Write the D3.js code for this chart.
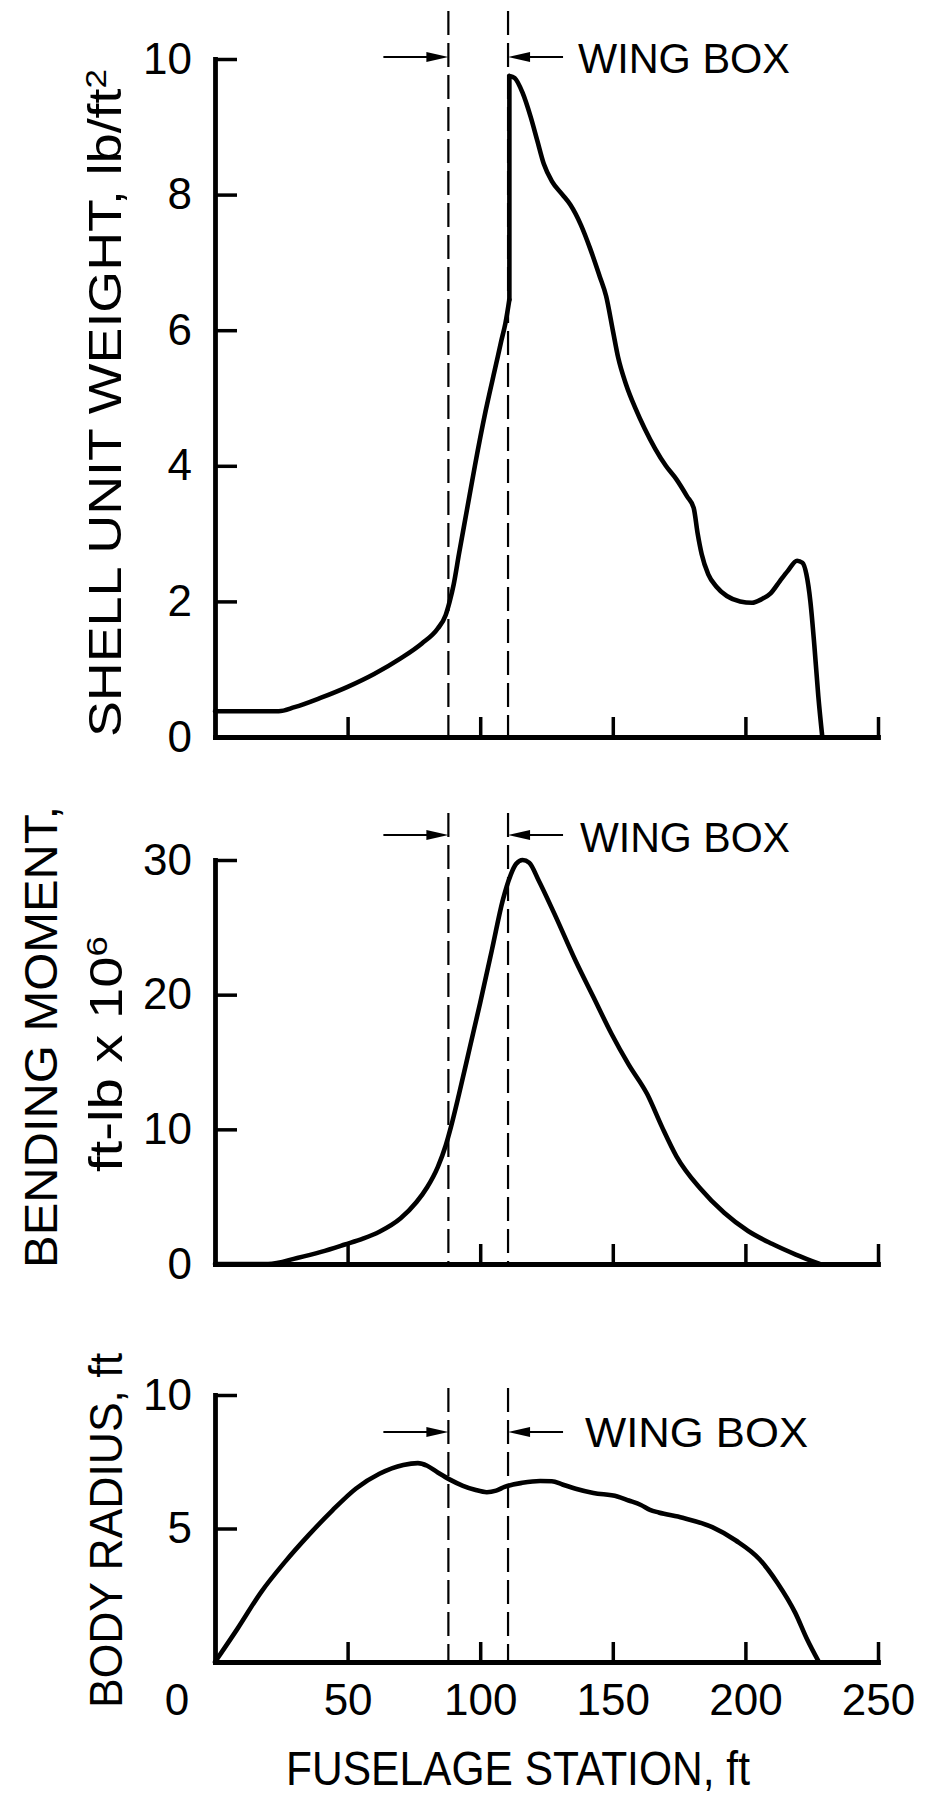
<!DOCTYPE html>
<html><head><meta charset="utf-8">
<script src="https://cdn.jsdelivr.net/npm/d3@7"></script>
<style>
html,body{margin:0;padding:0;background:#fff;}
svg{display:block;background:#fff;}
text{font-family:"Liberation Sans",Arial,Helvetica,sans-serif;fill:#000;}
</style></head><body>
<svg id="chart" width="925" height="1794"></svg>
<script>
// ---------- data ----------
const stationTicks = [50, 100, 150, 200, 250];
const stationZeroLabel = "0";
const wingBox = [88, 110.5];
const wingBoxLabel = "WING BOX";

const weightTicks = [0, 2, 4, 6, 8, 10];
const momentTicks = [0, 10, 20, 30];
const radiusTicks = [5, 10];

const weightStation = [0, 24, 30, 40, 50, 60, 70, 78, 84, 87, 88.5, 90, 92, 95, 98, 102, 106, 108, 109.5, 111,
  111, 113, 116, 119, 121.5, 124, 127, 131, 134, 138, 141.5, 145, 147.5, 150, 152, 155, 158.5, 162, 166, 170, 174, 178,
  180.5, 182, 183.5, 186, 189, 193, 198, 202.5, 206, 209.5, 213, 216, 219.5, 221.5, 223, 224.5, 226, 227.5, 229];
const weightValue = [0.38, 0.38, 0.44, 0.58, 0.74, 0.93, 1.16, 1.38, 1.6, 1.8, 2.0, 2.25, 2.7, 3.35, 4.0, 4.8, 5.5, 5.85, 6.1, 6.45,
  9.75, 9.72, 9.5, 9.15, 8.8, 8.45, 8.2, 8.0, 7.85, 7.55, 7.2, 6.8, 6.5, 6.0, 5.6, 5.2, 4.85, 4.55, 4.25, 4.0, 3.8, 3.55,
  3.38, 3.0, 2.7, 2.4, 2.22, 2.08, 2.0, 1.98, 2.03, 2.12, 2.3, 2.45, 2.6, 2.57, 2.4, 2.0, 1.35, 0.6, 0];

const momentStation = [0, 20, 31, 40, 49, 56, 62, 70, 76, 80, 84, 87, 89, 92, 96, 100, 104.5, 108.5, 111.5, 113.5, 116, 118.5, 122,
  128, 136, 142.5, 149.5, 156, 163, 168.5, 174, 183, 192, 201, 210, 219, 228];
const momentValue = [0, 0, 0.45, 0.9, 1.45, 1.9, 2.4, 3.4, 4.6, 5.7, 7.2, 8.8, 10.2, 12.6, 16.0, 19.4, 23.4, 27, 28.9, 29.7, 30, 29.8, 28.5,
  26, 22.5, 19.9, 17.1, 14.8, 12.6, 10.2, 8.0, 5.6, 3.8, 2.45, 1.5, 0.7, 0];

const radiusStation = [0, 8.5, 17.4, 26.4, 35.3, 44.3, 53.2, 62, 71, 76.5, 80, 84, 88.4, 93.5, 98, 102.5, 106, 109.2, 115.9,
  122.6, 127, 131, 136, 142.7, 151.7, 156, 160.6, 164, 167.3, 176.3, 187.5, 196.4, 205.4, 212.1, 218.8, 223.3, 227.7];
const radiusValue = [0, 1.25, 2.62, 3.75, 4.75, 5.68, 6.5, 7.05, 7.38, 7.45, 7.35, 7.1, 6.84, 6.6, 6.45, 6.36, 6.42, 6.56, 6.71,
  6.78, 6.77, 6.65, 6.49, 6.33, 6.2, 6.05, 5.88, 5.7, 5.6, 5.4, 5.05, 4.55, 3.84, 2.96, 1.84, 0.84, 0];

const xTitle = "FUSELAGE STATION, ft";

// ---------- layout ----------
const svg = d3.select("#chart");
const x = d3.scaleLinear().domain([0, 250]).range([215, 878]);

const panels = [
  { st: weightStation, val: weightValue, domain: [0, 10], range: [737, 59], ticks: weightTicks,
    dashTop: 11, arrowY: 57, textX: 578, textY: 73, textLen: 212, showX: false,
    titles: [{ bx: 121, by: 737, len: 668, text: "SHELL UNIT WEIGHT, lb/ft", sup: "2" }] },
  { st: momentStation, val: momentValue, domain: [0, 30], range: [1264, 860], ticks: momentTicks,
    dashTop: 813, arrowY: 835, textX: 580, textY: 852, textLen: 210, showX: false,
    titles: [{ bx: 57, by: 1268, len: 462, text: "BENDING MOMENT," },
             { bx: 122, by: 1172, len: 236, text: "ft-lb x 10", sup: "6" }] },
  { st: radiusStation, val: radiusValue, domain: [0, 10], range: [1662, 1395], ticks: radiusTicks,
    dashTop: 1388, arrowY: 1432, textX: 585, textY: 1447, textLen: 223, showX: true,
    titles: [{ bx: 122, by: 1708, len: 355, text: "BODY RADIUS, ft" }] }
];

function drawPanel(p) {
  const y = d3.scaleLinear().domain(p.domain).range(p.range);
  const g = svg.append("g");
  const base = y(p.domain[0]);

  // wing box dashed lines
  g.selectAll("line.wb").data(wingBox).join("line").attr("class", "wb")
    .attr("x1", d => x(d)).attr("x2", d => x(d))
    .attr("y1", p.dashTop).attr("y2", base)
    .attr("stroke", "#000").attr("stroke-width", 2.2).attr("stroke-dasharray", "24,8");

  // x axis
  const xa = d3.axisBottom(x).tickValues(stationTicks).tickSize(-20).tickSizeOuter(0).tickPadding(22)
    .tickFormat(p.showX ? d3.format("d") : () => "");
  const gx = g.append("g").attr("transform", `translate(0,${base})`).call(xa);
  gx.attr("font-size", null).attr("font-family", null);
  gx.select(".domain").attr("stroke-width", 4.8).attr("stroke-linecap", "square");
  gx.selectAll(".tick line").attr("stroke-width", 3.5);
  gx.selectAll(".tick text").style("font-size", "44px");
  if (p.showX) {
    g.append("text").attr("x", x(0) - 38).attr("y", base + 22).attr("dy", "0.71em")
      .attr("text-anchor", "middle").style("font-size", "44px").text(stationZeroLabel);
  }

  // y axis
  const ya = d3.axisLeft(y).tickValues(p.ticks).tickSize(-22).tickSizeOuter(0).tickPadding(23);
  const gy = g.append("g").attr("transform", `translate(${x(0)},0)`).call(ya);
  gy.attr("font-size", null).attr("font-family", null);
  gy.select(".domain").attr("stroke-width", 4.8).attr("stroke-linecap", "square");
  gy.selectAll(".tick line").attr("stroke-width", 3.5);
  gy.selectAll(".tick text").style("font-size", "44px");

  // curve: split at vertical jumps (repeated station)
  const pts = p.st.map((s, i) => [s, p.val[i]]);
  const segs = [[pts[0]]];
  for (let i = 1; i < pts.length; i++) {
    if (pts[i][0] === pts[i - 1][0]) segs.push([pts[i]]);
    else segs[segs.length - 1].push(pts[i]);
  }
  const line = d3.line().x(d => x(d[0])).y(d => y(d[1])).curve(d3.curveMonotoneX);
  const lin = d3.line().x(d => x(d[0])).y(d => y(d[1]));
  segs.forEach((s, k) => {
    g.append("path").attr("d", line(s)).attr("fill", "none").attr("stroke", "#000")
      .attr("stroke-width", 4.6).attr("stroke-linejoin", "round").attr("stroke-linecap", "round");
    if (k > 0) {
      const prev = segs[k - 1];
      g.append("path").attr("d", lin([prev[prev.length - 1], s[0]])).attr("fill", "none")
        .attr("stroke", "#000").attr("stroke-width", 4.6).attr("stroke-linecap", "round");
    }
  });

  // wing box arrows
  const xl = x(wingBox[0]), xr = x(wingBox[1]);
  const ay = p.arrowY;
  g.append("line").attr("x1", xl - 65).attr("x2", xl - 18).attr("y1", ay).attr("y2", ay)
    .attr("stroke", "#000").attr("stroke-width", 1.8);
  g.append("path").attr("d", `M${xl},${ay} L${xl - 22},${ay - 5} L${xl - 22},${ay + 5} Z`).attr("fill", "#000");
  g.append("line").attr("x1", xr + 18).attr("x2", xr + 55).attr("y1", ay).attr("y2", ay)
    .attr("stroke", "#000").attr("stroke-width", 2.2);
  g.append("path").attr("d", `M${xr},${ay} L${xr + 22},${ay - 5} L${xr + 22},${ay + 5} Z`).attr("fill", "#000");
  g.append("text").attr("x", p.textX).attr("y", p.textY).style("font-size", "42px")
    .attr("textLength", p.textLen).attr("lengthAdjust", "spacingAndGlyphs").text(wingBoxLabel);

  // y titles
  p.titles.forEach(t => {
    const tx = g.append("text").attr("transform", `translate(${t.bx},${t.by}) rotate(-90)`)
      .style("font-size", "46px").attr("textLength", t.len).attr("lengthAdjust", "spacingAndGlyphs");
    tx.append("tspan").text(t.text);
    if (t.sup) tx.append("tspan").attr("dy", "-0.5em").style("font-size", "30px").text(t.sup);
  });
}

panels.forEach(drawPanel);

svg.append("text").attr("x", 518).attr("y", 1785).attr("text-anchor", "middle")
  .style("font-size", "48px").attr("textLength", 464).attr("lengthAdjust", "spacingAndGlyphs").text(xTitle);
</script>
</body></html>
